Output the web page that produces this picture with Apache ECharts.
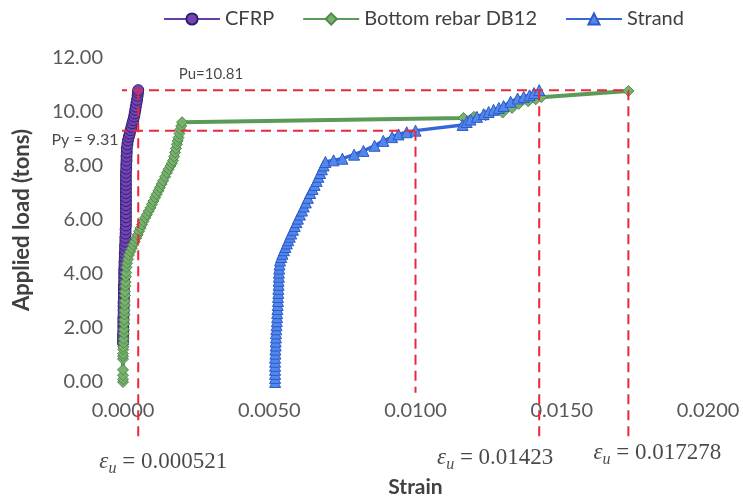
<!DOCTYPE html>
<html>
<head>
<meta charset="utf-8">
<script src="https://cdn.jsdelivr.net/npm/echarts@6/dist/echarts.min.js"></script>
<style>
  html, body { margin: 0; padding: 0; background: #ffffff; }
  #chart { width: 743px; height: 503px; }
</style>
</head>
<body>
<div id="chart"></div>
<script>
// Load (tons) versus strain for the three instrumented components
const seriesNames = ['CFRP', 'Bottom rebar DB12', 'Strand'];

// [strain, load]
const cfrp = [
  [0.00000, 1.45], [0.00000, 1.60], [0.00000, 1.75], [0.00001, 1.90], [0.00001, 2.05],
  [0.00001, 2.20], [0.00001, 2.35], [0.00002, 2.50], [0.00002, 2.65], [0.00002, 2.80],
  [0.00002, 2.95], [0.00003, 3.10], [0.00003, 3.25], [0.00003, 3.40], [0.00003, 3.55],
  [0.00004, 3.70], [0.00004, 3.85], [0.00004, 4.00], [0.00004, 4.15], [0.00005, 4.30],
  [0.00005, 4.45], [0.00006, 4.60], [0.00006, 4.75], [0.00007, 4.90], [0.00007, 5.05],
  [0.00008, 5.20], [0.00008, 5.35], [0.00009, 5.50], [0.00009, 5.65], [0.00010, 5.80],
  [0.00010, 5.95], [0.00010, 6.10], [0.00010, 6.25], [0.00010, 6.40], [0.00010, 6.55],
  [0.00010, 6.70], [0.00010, 6.85], [0.00010, 7.00], [0.00010, 7.15], [0.00010, 7.30],
  [0.00010, 7.45], [0.00010, 7.60], [0.00010, 7.75], [0.00011, 7.90], [0.00011, 8.05],
  [0.00012, 8.20], [0.00012, 8.35], [0.00013, 8.50], [0.00013, 8.65], [0.00015, 8.80],
  [0.00017, 8.95], [0.00020, 9.08], [0.00023, 9.20], [0.00026, 9.33], [0.00029, 9.45],
  [0.00032, 9.58], [0.00035, 9.70], [0.00038, 9.83], [0.00040, 9.95], [0.00042, 10.08],
  [0.00044, 10.20], [0.00046, 10.33], [0.00048, 10.45], [0.00050, 10.60], [0.00051, 10.72],
  [0.000521, 10.81]
];

const rebar = [
  [0.00000, 0.00], [0.00000, 0.10], [0.00000, 0.25], [0.00000, 0.45], [0.00000, 0.85],
  [0.00000, 0.95], [0.00000, 1.05], [0.00001, 1.20], [0.00001, 1.30], [0.00002, 1.45],
  [0.00002, 1.60], [0.00003, 1.80], [0.00003, 1.95], [0.00004, 2.15], [0.00004, 2.30],
  [0.00005, 2.50], [0.00005, 2.65], [0.00006, 2.85], [0.00006, 3.00], [0.00007, 3.20],
  [0.00007, 3.35], [0.00008, 3.55], [0.00009, 3.70], [0.00010, 3.90], [0.00011, 4.05],
  [0.00012, 4.25], [0.00014, 4.40], [0.00017, 4.55], [0.00020, 4.70], [0.00025, 4.83],
  [0.00030, 4.95], [0.00035, 5.08], [0.00040, 5.20], [0.00045, 5.33], [0.00050, 5.45],
  [0.00055, 5.58], [0.00060, 5.70], [0.00065, 5.83], [0.00070, 5.95], [0.00076, 6.08],
  [0.00082, 6.20], [0.00088, 6.33], [0.00094, 6.45], [0.00099, 6.58], [0.00104, 6.70],
  [0.00110, 6.83], [0.00115, 6.95], [0.00121, 7.08], [0.00126, 7.20], [0.00132, 7.33],
  [0.00137, 7.45], [0.00144, 7.60], [0.00150, 7.75], [0.00156, 7.88], [0.00162, 8.00],
  [0.00167, 8.10], [0.00171, 8.20], [0.00175, 8.35], [0.00178, 8.50], [0.00181, 8.65],
  [0.00184, 8.80], [0.00187, 8.93], [0.00190, 9.05], [0.00193, 9.20], [0.00196, 9.35],
  [0.00199, 9.48], [0.00202, 9.62],
  [0.01164, 9.78], [0.01200, 9.82], [0.01240, 9.88], [0.01298, 9.98], [0.01330, 10.15],
  [0.01353, 10.30], [0.01385, 10.40], [0.01411, 10.47], [0.01430, 10.55], [0.017278, 10.78]
];

const strand = [
  [0.00520, 0.00], [0.00520, 0.15], [0.00520, 0.30], [0.00520, 0.45], [0.00520, 0.60],
  [0.00520, 0.75], [0.00520, 0.90], [0.00521, 1.05], [0.00521, 1.20], [0.00522, 1.35],
  [0.00522, 1.50], [0.00523, 1.65], [0.00523, 1.80], [0.00524, 1.95], [0.00525, 2.10],
  [0.00526, 2.25], [0.00527, 2.40], [0.00527, 2.55], [0.00528, 2.70], [0.00529, 2.85],
  [0.00530, 3.00], [0.00530, 3.15], [0.00531, 3.30], [0.00531, 3.45], [0.00532, 3.60],
  [0.00532, 3.75], [0.00533, 3.90], [0.00533, 4.05], [0.00534, 4.20], [0.00535, 4.35],
  [0.00537, 4.50], [0.00541, 4.63], [0.00545, 4.75], [0.00550, 4.88], [0.00555, 5.00],
  [0.00560, 5.13], [0.00565, 5.25], [0.00570, 5.38], [0.00575, 5.50], [0.00581, 5.64],
  [0.00587, 5.78], [0.00593, 5.92], [0.00598, 6.05], [0.00605, 6.20], [0.00612, 6.35],
  [0.00618, 6.50], [0.00625, 6.65], [0.00632, 6.82], [0.00640, 7.00], [0.00648, 7.15],
  [0.00655, 7.30], [0.00662, 7.45], [0.00668, 7.60], [0.00674, 7.74], [0.00680, 7.88],
  [0.00686, 8.02], [0.00692, 8.15], [0.00720, 8.21], [0.00750, 8.27], [0.00790, 8.42],
  [0.00822, 8.56], [0.00860, 8.75], [0.00890, 8.93], [0.00920, 9.07], [0.00942, 9.17],
  [0.00970, 9.25], [0.01000, 9.31], [0.01161, 9.52], [0.01175, 9.63], [0.01188, 9.72],
  [0.01210, 9.82], [0.01233, 9.92], [0.01250, 10.00], [0.01267, 10.08], [0.01285, 10.15],
  [0.01301, 10.22], [0.01325, 10.38], [0.01349, 10.50], [0.01370, 10.56], [0.01390, 10.62],
  [0.01405, 10.70], [0.01423, 10.81]
];

// Reference levels
const ultimateLoad = 10.81;
const yieldLoad = 9.31;
const yieldStrain = 0.0100;
const ultimateStrains = [0.000521, 0.01423, 0.017278];
const ultimateStrainText = ['0.000521', '0.01423', '0.017278'];
const guideLeft = -0.0013;   // guides start left of the value axis
const guideBottom = -2.2;    // vertical guides run down past the tick labels
const yieldGuideBottom = -0.4;

// Axis ticks
const xTicks = { min: 0, max: 0.02, step: 0.005 };
const yTicks = { min: 0, max: 12, step: 2 };

const tickFont = 'Lato, "Open Sans", sans-serif';
const mathFont = '"Liberation Serif", "DejaVu Serif", serif';
const guideColor = '#e8283c';

function guide(points) {
  return {
    type: 'line',
    data: points,
    clip: false,
    symbol: 'none',
    silent: true,
    z: 5,
    lineStyle: { color: guideColor, width: 2, type: [10, 6] }
  };
}

function epsLabel(text) {
  return '{e|ε}{u|u}{t| = ' + text + '}';
}

const epsRich = {
  e: { fontFamily: mathFont, fontStyle: 'italic', fontSize: 23, color: '#1a1a1a', lineHeight: 30 },
  u: { fontFamily: mathFont, fontStyle: 'italic', fontSize: 16, color: '#1a1a1a', lineHeight: 15, verticalAlign: 'bottom' },
  t: { fontFamily: mathFont, fontSize: 23, color: '#1a1a1a', lineHeight: 30 }
};

const epsOffsets = [[25, 0], [-44, -4], [29, -9]];

const notes = [
  {
    value: [guideLeft, ultimateLoad],
    label: { show: true, position: 'top', offset: [126, -3], formatter: 'Pu=10.81',
             fontFamily: tickFont, fontSize: 15, color: '#1a1a1a' }
  },
  {
    value: [guideLeft, yieldLoad],
    label: { show: true, position: 'bottom', offset: [0, -4], formatter: 'Py = 9.31',
             fontFamily: tickFont, fontSize: 16, color: '#1a1a1a' }
  }
].concat(ultimateStrains.map(function (s, i) {
  return {
    value: [s, guideBottom],
    label: { show: true, position: 'bottom', offset: epsOffsets[i],
             formatter: epsLabel(ultimateStrainText[i]), rich: epsRich }
  };
}));

const chart = echarts.init(document.getElementById('chart'));

chart.setOption({
  backgroundColor: '#ffffff',
  animation: false,
  legend: {
    data: seriesNames,
    top: 4,
    left: 158,
    itemWidth: 56,
    itemHeight: 14,
    itemGap: 28,
    textStyle: { fontFamily: tickFont, fontSize: 20, color: '#404040' }
  },
  grid: { left: 123, right: 35, top: 58, bottom: 121, containLabel: false },
  xAxis: {
    type: 'value',
    min: xTicks.min,
    max: xTicks.max,
    interval: xTicks.step,
    name: 'Strain',
    nameLocation: 'middle',
    nameGap: 95,
    nameTextStyle: { fontFamily: tickFont, fontSize: 21, fontWeight: 'bold', color: '#404040' },
    axisLine: { show: false },
    axisTick: { show: false },
    splitLine: { show: false },
    axisLabel: {
      margin: 19,
      fontFamily: tickFont, fontSize: 20, color: '#595959',
      formatter: function (v) { return v.toFixed(4); }
    }
  },
  yAxis: {
    type: 'value',
    min: yTicks.min,
    max: yTicks.max,
    interval: yTicks.step,
    name: 'Applied load (tons)',
    nameLocation: 'middle',
    nameGap: 90,
    nameTextStyle: { fontFamily: tickFont, fontSize: 22, fontWeight: 'bold', color: '#404040' },
    axisLine: { show: false },
    axisTick: { show: false },
    splitLine: { show: false },
    axisLabel: {
      margin: 20,
      fontFamily: tickFont, fontSize: 20, color: '#595959',
      formatter: function (v) { return v.toFixed(2); }
    }
  },
  series: [
    {
      name: seriesNames[0],
      type: 'line',
      data: cfrp,
      symbol: 'circle',
      symbolSize: 11,
      z: 2,
      lineStyle: { color: '#6a3aa8', width: 4 },
      itemStyle: { color: '#7444b4', borderColor: '#2e1f70', borderWidth: 1 }
    },
    {
      name: seriesNames[1],
      type: 'line',
      data: rebar,
      symbol: 'diamond',
      symbolSize: 11,
      z: 3,
      lineStyle: { color: '#5c9b57', width: 4 },
      itemStyle: { color: '#78b06e', borderColor: '#4f8a4a', borderWidth: 1 }
    },
    {
      name: seriesNames[2],
      type: 'line',
      data: strand,
      symbol: 'triangle',
      symbolSize: 11,
      z: 4,
      lineStyle: { color: '#3766d6', width: 3.5 },
      itemStyle: { color: '#5288ee', borderColor: '#2d5ac4', borderWidth: 1 }
    },
    guide([[guideLeft, ultimateLoad], [ultimateStrains[2], ultimateLoad]]),
    guide([[guideLeft, yieldLoad], [yieldStrain, yieldLoad]]),
    guide([[yieldStrain, yieldLoad], [yieldStrain, yieldGuideBottom]]),
    guide([[ultimateStrains[0], ultimateLoad], [ultimateStrains[0], guideBottom]]),
    guide([[ultimateStrains[1], ultimateLoad], [ultimateStrains[1], guideBottom]]),
    guide([[ultimateStrains[2], ultimateLoad], [ultimateStrains[2], guideBottom]]),
    {
      type: 'scatter',
      data: notes,
      clip: false,
      symbol: 'circle',
      symbolSize: 1,
      silent: true,
      z: 6,
      itemStyle: { color: 'rgba(0,0,0,0)' }
    }
  ]
});
</script>
</body>
</html>
